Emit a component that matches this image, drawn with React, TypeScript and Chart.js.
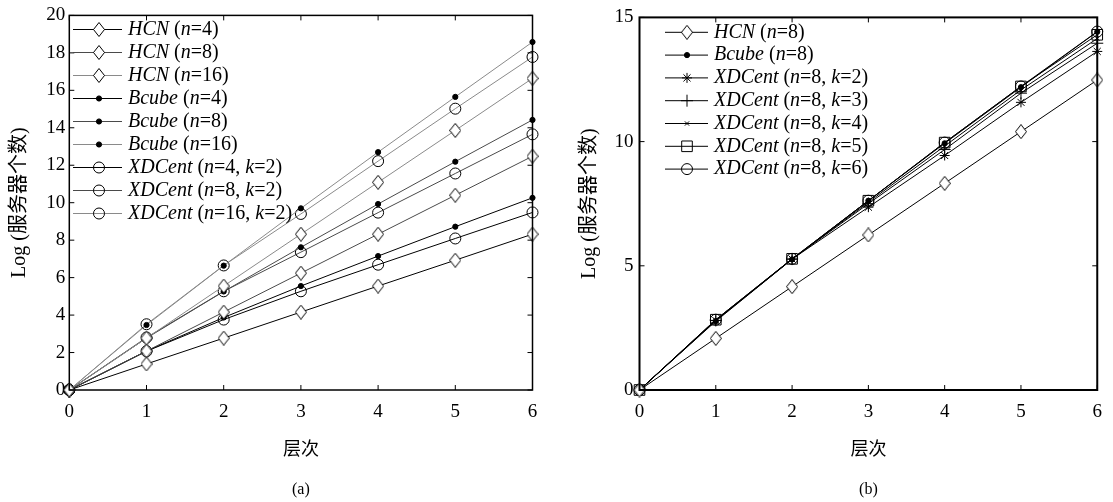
import React, { useEffect, useRef } from 'react';
import { Chart, registerables } from 'chart.js';
import { drawPoint } from 'chart.js/helpers';

Chart.register(...registerables);

const FAMILY = '"Liberation Serif", "Noto Sans CJK SC", serif';

// ---------- data ----------
const levels = [0, 1, 2, 3, 4, 5, 6];

// chart (a)
const hcn4 = [0, 1.39, 2.77, 4.16, 5.55, 6.93, 8.32];
const hcn8 = [0, 2.08, 4.16, 6.24, 8.32, 10.4, 12.48];
const hcn16 = [0, 2.77, 5.55, 8.32, 11.09, 13.86, 16.64];
const bcube4 = [0, 2.08, 3.87, 5.55, 7.15, 8.72, 10.26];
const bcube8 = [0, 2.77, 5.26, 7.62, 9.93, 12.19, 14.42];
const bcube16 = [0, 3.47, 6.64, 9.7, 12.7, 15.65, 18.58];
const xdc4 = [0, 2.07, 3.76, 5.27, 6.69, 8.09, 9.48];
const xdc8 = [0, 2.8, 5.27, 7.36, 9.47, 11.56, 13.65];
const xdc16 = [0, 3.51, 6.65, 9.4, 12.22, 15.02, 17.78];

const labelsA = [
  'HCN (n=4)', 'HCN (n=8)', 'HCN (n=16)',
  'Bcube (n=4)', 'Bcube (n=8)', 'Bcube (n=16)',
  'XDCent (n=4, k=2)', 'XDCent (n=8, k=2)', 'XDCent (n=16, k=2)',
];
const valuesA = [hcn4, hcn8, hcn16, bcube4, bcube8, bcube16, xdc4, xdc8, xdc16];
const markersA = ['diamond', 'diamond', 'diamond', 'dot', 'dot', 'dot', 'circle', 'circle', 'circle'];
const colorsA = ['#000000', '#4a4a4a', '#8a8a8a', '#000000', '#4a4a4a', '#8a8a8a', '#000000', '#4a4a4a', '#8a8a8a'];
const yTicksA = [0, 2, 4, 6, 8, 10, 12, 14, 16, 18, 20];

// chart (b)
const hcnB = [0, 2.08, 4.16, 6.24, 8.32, 10.4, 12.48];
const bcubeB = [0, 2.77, 5.26, 7.62, 9.93, 12.19, 14.42];
const xdcK2 = [0, 2.8, 5.27, 7.36, 9.44, 11.58, 13.63];
const xdcK3 = [0, 2.8, 5.27, 7.5, 9.68, 11.95, 13.96];
const xdcK4 = [0, 2.8, 5.27, 7.56, 9.82, 12.08, 14.15];
const xdcK5 = [0, 2.83, 5.28, 7.62, 9.96, 12.22, 14.3];
const xdcK6 = [0, 2.83, 5.28, 7.62, 9.96, 12.22, 14.43];

const labelsB = [
  'HCN (n=8)', 'Bcube (n=8)',
  'XDCent (n=8, k=2)', 'XDCent (n=8, k=3)', 'XDCent (n=8, k=4)',
  'XDCent (n=8, k=5)', 'XDCent (n=8, k=6)',
];
const valuesB = [hcnB, bcubeB, xdcK2, xdcK3, xdcK4, xdcK5, xdcK6];
const markersB = ['diamond', 'dot', 'star', 'plus', 'x', 'square', 'circle'];
const colorsB = ['#000', '#000', '#000', '#000', '#000', '#000', '#000'];
const yTicksB = [0, 5, 10, 15];

const xTitle = '层次';
const yTitle = 'Log (服务器个数)';

// ---------- styles ----------
function makeDiamond(): any {
  if (typeof document === 'undefined') return 'rectRot';
  const w = 12, h = 15;
  const c = document.createElement('canvas');
  c.width = w;
  c.height = h;
  const g = c.getContext('2d')!;
  g.beginPath();
  g.moveTo(w / 2, 0.5);
  g.lineTo(w - 0.5, h / 2);
  g.lineTo(w / 2, h - 0.5);
  g.lineTo(0.5, h / 2);
  g.closePath();
  g.fillStyle = '#fff';
  g.fill();
  g.strokeStyle = '#000';
  g.lineWidth = 1;
  g.stroke();
  return c;
}
const diamondImg = makeDiamond();

const MARKERS: Record<string, any> = {
  diamond: { pointStyle: diamondImg, radius: 6, fill: '#ffffff' },
  dot: { pointStyle: 'circle', radius: 2.6, fill: '#000000' },
  circle: { pointStyle: 'circle', radius: 5.5, fill: 'rgba(0,0,0,0)' },
  star: { pointStyle: 'star', radius: 5, fill: 'rgba(0,0,0,0)' },
  plus: { pointStyle: 'cross', radius: 6, fill: 'rgba(0,0,0,0)' },
  x: { pointStyle: 'crossRot', radius: 3, fill: 'rgba(0,0,0,0)' },
  square: { pointStyle: 'rect', radius: 7.5, fill: 'rgba(0,0,0,0)' },
};

function drawRich(ctx: CanvasRenderingContext2D, text: string, x: number, y: number, size: number) {
  const parts = text.split(/([A-Za-z]+)/).filter((s) => s.length);
  let cx = x;
  ctx.textAlign = 'left';
  ctx.textBaseline = 'middle';
  for (const p of parts) {
    const it = /^[A-Za-z]+$/.test(p);
    ctx.font = `${it ? 'italic ' : ''}${size}px ${FAMILY}`;
    ctx.fillText(p, cx, y);
    cx += ctx.measureText(p).width;
  }
}

const framePlugin = {
  id: 'frame',
  afterDraw(chart: any, _args: any, opts: any) {
    const { ctx, chartArea: a, scales } = chart;
    const L = 5;
    ctx.save();
    ctx.strokeStyle = '#000';
    ctx.lineWidth = 1;
    const line = (x1: number, y1: number, x2: number, y2: number) => {
      ctx.beginPath();
      ctx.moveTo(x1, y1);
      ctx.lineTo(x2, y2);
      ctx.stroke();
    };
    for (const t of scales.x.ticks) {
      const px = scales.x.getPixelForValue(t.value);
      line(px, a.bottom, px, a.bottom - L);
      line(px, a.top, px, a.top + L);
    }
    for (const t of scales.y.ticks) {
      const py = scales.y.getPixelForValue(t.value);
      line(a.left, py, a.left + L, py);
      line(a.right, py, a.right - L, py);
    }
    ctx.lineWidth = opts.border;
    ctx.strokeRect(a.left, a.top, a.right - a.left, a.bottom - a.top);

    // legend
    opts.items.forEach((it: any, i: number) => {
      const y = opts.y0 + i * opts.dy;
      ctx.strokeStyle = it.color;
      ctx.lineWidth = 1;
      line(opts.x0, y, opts.x1, y);
      const m = MARKERS[it.marker];
      ctx.fillStyle = m.fill;
      ctx.strokeStyle = '#000';
      drawPoint(ctx, { pointStyle: m.pointStyle, radius: m.radius, rotation: 0, borderWidth: 1 }, opts.xm, y);
      ctx.fillStyle = '#000';
      drawRich(ctx, it.label, opts.xt, y, opts.size);
    });

    // caption
    ctx.fillStyle = '#000';
    ctx.font = `16px ${FAMILY}`;
    ctx.textAlign = 'center';
    ctx.textBaseline = 'middle';
    ctx.fillText(opts.caption, (a.left + a.right) / 2, opts.captionY);
    ctx.restore();
  },
};

function makeConfig(p: {
  labels: string[]; values: number[][]; markers: string[]; colors: string[];
  yMax: number; yStep: number; yWidth: number; padRight: number; border: number;
  legend: any; caption: string; yTitlePad: number; yTickPad: number;
}) {
  const datasets = p.values.map((vals, i) => {
    const m = MARKERS[p.markers[i]];
    return {
      label: p.labels[i],
      data: vals.map((v, j) => ({ x: levels[j], y: v })),
      borderColor: p.colors[i],
      borderWidth: 1,
      pointStyle: m.pointStyle,
      pointRadius: m.radius,
      pointBackgroundColor: m.fill,
      pointBorderColor: '#000',
      pointBorderWidth: 1,
      clip: false as any,
      tension: 0,
    };
  });
  return {
    type: 'line' as const,
    data: { datasets },
    options: {
      responsive: false,
      animation: false as const,
      devicePixelRatio: 1,
      layout: { padding: { left: 0, top: 14, right: p.padRight, bottom: 0 } },
      plugins: {
        legend: { display: false },
        tooltip: { enabled: false },
        frame: {
          border: p.border,
          items: p.labels.map((l, i) => ({ label: l, marker: p.markers[i], color: p.colors[i] })),
          ...p.legend,
          caption: p.caption,
          captionY: 490,
        },
      },
      scales: {
        x: {
          type: 'linear' as const,
          min: 0,
          max: 6,
          grid: { display: false, drawTicks: false },
          border: { display: false },
          ticks: { stepSize: 1, padding: 11, color: '#000', font: { family: FAMILY, size: 19 }, maxRotation: 0 },
          title: { display: true, text: xTitle, color: '#000', font: { family: FAMILY, size: 18 }, padding: { top: 0, bottom: 41 } },
          afterFit: (s: any) => { s.height = 112; },
        },
        y: {
          type: 'linear' as const,
          min: 0,
          max: p.yMax,
          grid: { display: false, drawTicks: false },
          border: { display: false },
          ticks: { stepSize: p.yStep, padding: p.yTickPad, color: '#000', font: { family: FAMILY, size: 19 } },
          title: { display: true, text: yTitle, color: '#000', font: { family: FAMILY, size: 20 }, padding: { top: p.yTitlePad, bottom: 0 } },
          afterFit: (s: any) => { s.width = p.yWidth; },
        },
      },
    },
    plugins: [framePlugin],
  };
}

function ChartCanvas({ config, width, height, left }: { config: any; width: number; height: number; left: number }) {
  const ref = useRef<HTMLCanvasElement | null>(null);
  useEffect(() => {
    if (!ref.current) return;
    const chart = new Chart(ref.current, config);
    return () => chart.destroy();
  }, [config]);
  return (
    <canvas
      ref={ref}
      width={width}
      height={height}
      style={{ position: 'absolute', left, top: 0, width, height }}
    />
  );
}

const configA = makeConfig({
  labels: labelsA, values: valuesA, markers: markersA, colors: colorsA,
  yMax: yTicksA[yTicksA.length - 1], yStep: yTicksA[1] - yTicksA[0], yWidth: 69.3, padRight: 23.5, border: 1.5,
  legend: { x0: 73, x1: 122, xm: 99, xt: 128, y0: 29.5, dy: 23, size: 20 },
  caption: '(a)', yTitlePad: 8, yTickPad: 4,
});

const configB = makeConfig({
  labels: labelsB, values: valuesB, markers: markersB, colors: colorsB,
  yMax: yTicksB[yTicksB.length - 1], yStep: yTicksB[1] - yTicksB[0], yWidth: 83.5, padRight: 9.7, border: 2,
  legend: { x0: 109, x1: 152, xm: 131, xt: 158, y0: 32.3, dy: 22.8, size: 20 },
  caption: '(b)', yTitlePad: 22, yTickPad: 6,
});

export default function App() {
  return (
    <div style={{ position: 'fixed', left: 0, top: 0, width: 1113, height: 502, background: '#fff', overflow: 'hidden' }}>
      <ChartCanvas config={configA} width={556} height={502} left={0} />
      <ChartCanvas config={configB} width={557} height={502} left={556} />
    </div>
  );
}
